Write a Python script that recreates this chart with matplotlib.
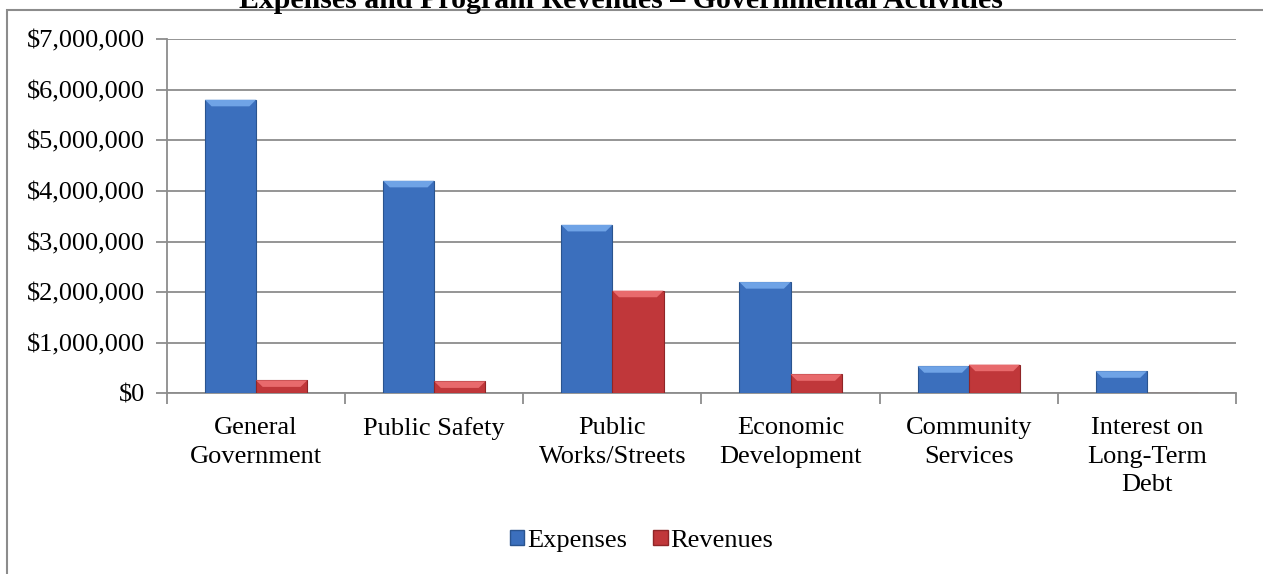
import numpy as np
import matplotlib.pyplot as plt
from matplotlib.patches import Rectangle, Polygon
from matplotlib.ticker import FuncFormatter, FixedLocator

categories = ['General\nGovernment', 'Public Safety', 'Public\nWorks/Streets',
              'Economic\nDevelopment', 'Community\nServices', 'Interest on\nLong-Term\nDebt']
expenses = [5800000, 4200000, 3330000, 2200000, 540000, 440000]
revenues = [260000, 240000, 2030000, 380000, 570000, 0]
title = 'Expenses and Program Revenues \u2013 Governmental Activities'

plt.rcParams['font.family'] = ['Liberation Serif', 'DejaVu Serif']

fig = plt.figure(figsize=(12.63, 5.74), dpi=100)
ax = fig.add_axes([0.1322, 0.3145, 0.8464, 0.6176])

x = np.arange(len(categories))
w = 0.287
blue, blue_lt, blue_dk = '#3b6fbd', '#6fa3e6', '#2a548f'
red, red_lt, red_dk = '#c0373a', '#e86a6c', '#8f2527'


def bevel_bars(xs, vals, color, light, dark):
    bars = ax.bar(xs, vals, w, color=color, edgecolor=dark, linewidth=0.8, zorder=3)
    for b in bars:
        h = b.get_height()
        if h <= 0:
            continue
        x0, bw = b.get_x(), b.get_width()
        d = min(h, 130000)
        inset = bw * 0.13
        # lighter top bevel
        ax.add_patch(Polygon([(x0, h), (x0 + bw, h), (x0 + bw - inset, h - d), (x0 + inset, h - d)],
                             closed=True, facecolor=light, edgecolor='none', zorder=4))
    return bars


bevel_bars(x - w / 2, expenses, blue, blue_lt, blue_dk)
bevel_bars(x + w / 2, revenues, red, red_lt, red_dk)

ax.set_xlim(-0.5, len(categories) - 0.5)
ax.set_ylim(0, 7000000)
ax.set_yticks(np.arange(0, 7000001, 1000000))
ax.yaxis.set_major_formatter(FuncFormatter(lambda v, p: '${:,.0f}'.format(v)))
ax.yaxis.grid(True, color='#8c8c8c', linewidth=1.3, zorder=0)
ax.set_axisbelow(True)

ax.set_xticks(x)
ax.set_xticklabels(categories, fontsize=19, linespacing=1.38)
ax.tick_params(axis='x', length=0, pad=17)
ax.xaxis.set_minor_locator(FixedLocator(np.arange(-0.5, len(categories), 1)))
ax.tick_params(axis='x', which='minor', length=8, color='#8c8c8c', width=1.3)
ax.tick_params(axis='y', labelsize=19, length=8, color='#8c8c8c', width=1.3, pad=8)

for s in ['top', 'right']:
    ax.spines[s].set_visible(False)
for s in ['left', 'bottom']:
    ax.spines[s].set_color('#8c8c8c')
    ax.spines[s].set_linewidth(1.3)

# legend
handles = [Rectangle((0, 0), 1, 1, facecolor=blue, edgecolor=blue_dk),
           Rectangle((0, 0), 1, 1, facecolor=red, edgecolor=red_dk)]
fig.legend(handles, ['Expenses', 'Revenues'], loc='center', bbox_to_anchor=(0.508, 0.058),
           ncol=2, frameon=False, fontsize=19, handlelength=0.55, handleheight=0.55,
           handletextpad=0.1, columnspacing=1.0)

# outer chart frame
fig.patches.append(Rectangle((7 / 1263, -0.1), 1.1, 1 - 10 / 574 + 0.1, transform=fig.transFigure,
                             fill=False, edgecolor='#8c8c8c', linewidth=1.5))
fig.text(0.492, 1 - 8 / 574, title, ha='center', va='baseline', fontsize=21.5, fontweight='bold')

fig.savefig('out.png', dpi=100)
